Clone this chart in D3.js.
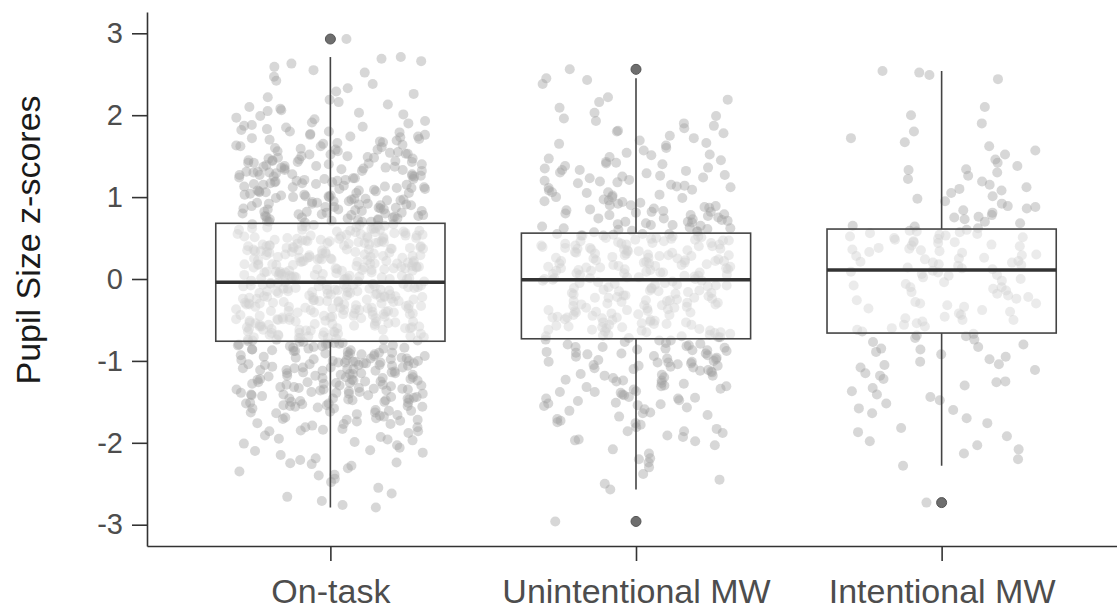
<!DOCTYPE html>
<html>
<head>
<meta charset="utf-8">
<script src="https://cdn.jsdelivr.net/npm/d3@7"></script>
<style>
  html, body { margin: 0; padding: 0; background: #ffffff; }
  svg { display: block; font-family: "Liberation Sans", Arial, Helvetica, sans-serif; }
</style>
</head>
<body>
<svg id="chart" width="1117" height="610"></svg>
<script>
// Conditions shown along the x axis
const categories = ["On-task", "Unintentional MW", "Intentional MW"];
const yTicks = [-3, -2, -1, 0, 1, 2, 3];

// Pupil size z-scores per trial, one list per condition
const onTask = [
  -2.79,-2.76,-2.71,-2.66,-2.62,-2.55,
  -2.48,-2.44,-2.39,-2.35,-2.31,-2.28,-2.26,-2.24,-2.21,-2.19,-2.15,-2.12,-2.09,-2.06,-2.03,-2.01,
  -1.99,-1.97,-1.95,-1.93,-1.91,-1.88,-1.86,-1.85,-1.83,-1.81,-1.79,-1.77,-1.76,-1.74,-1.72,-1.71,-1.69,
  -1.68,-1.66,-1.65,-1.63,-1.62,-1.61,-1.6,-1.58,-1.57,-1.56,-1.55,-1.54,-1.53,-1.52,-1.51,-1.51,-1.5,
  -1.49,-1.48,-1.47,-1.46,-1.46,-1.45,-1.44,-1.43,-1.42,-1.41,-1.4,-1.39,-1.38,-1.37,-1.36,-1.35,-1.35,
  -1.34,-1.33,-1.32,-1.31,-1.3,-1.29,-1.28,-1.27,-1.26,-1.25,-1.25,-1.24,-1.23,-1.22,-1.21,-1.2,-1.19,
  -1.18,-1.17,-1.16,-1.15,-1.15,-1.14,-1.13,-1.12,-1.11,-1.1,-1.09,-1.08,-1.08,-1.07,-1.06,-1.05,-1.05,
  -1.04,-1.03,-1.03,-1.02,-1.02,-1.01,-1.01,-1.0,-1.0,
  -0.99,-0.98,-0.97,-0.96,-0.95,-0.94,-0.93,-0.92,-0.91,-0.9,-0.89,-0.88,-0.87,-0.86,-0.85,-0.84,-0.83,
  -0.82,-0.81,-0.8,-0.79,-0.78,-0.77,-0.77,
  -0.76,-0.75,-0.75,-0.74,-0.74,-0.73,-0.72,-0.72,-0.71,-0.7,-0.7,-0.69,-0.68,-0.68,-0.67,-0.66,-0.66,
  -0.65,-0.64,-0.64,-0.63,-0.62,-0.62,-0.61,-0.6,-0.6,-0.59,-0.58,-0.58,-0.57,-0.56,-0.56,-0.55,-0.54,
  -0.54,-0.53,-0.52,-0.52,-0.51,-0.5,-0.5,-0.49,-0.48,-0.48,-0.47,-0.46,-0.46,-0.45,-0.44,-0.44,-0.43,
  -0.42,-0.42,-0.41,-0.4,-0.4,-0.39,-0.38,-0.38,-0.37,-0.36,-0.36,-0.35,-0.34,-0.34,-0.33,-0.32,-0.32,
  -0.31,-0.3,-0.3,-0.29,-0.28,-0.28,-0.27,-0.26,-0.26,-0.25,-0.24,-0.24,-0.23,-0.22,-0.22,-0.21,-0.2,
  -0.2,-0.19,-0.18,-0.18,-0.17,-0.16,-0.16,-0.15,-0.14,-0.14,-0.13,-0.12,-0.12,-0.11,-0.1,-0.1,-0.09,
  -0.08,-0.08,-0.07,-0.06,-0.06,-0.05,-0.05,-0.04,
  -0.61,-0.55,-0.49,-0.45,-0.41,-0.37,-0.35,-0.33,-0.31,-0.29,-0.27,-0.25,-0.23,-0.21,-0.19,-0.17,
  -0.15,-0.13,-0.11,-0.09,-0.07,-0.53,-0.47,-0.39,-0.27,-0.21,-0.15,-0.09,-0.43,-0.57,
  -0.03,-0.02,-0.02,-0.01,0,0,0.01,0.02,0.02,0.03,0.04,0.04,0.05,0.06,0.06,0.07,0.08,0.08,0.09,0.1,
  0.1,0.11,0.12,0.12,0.13,0.14,0.14,0.15,0.16,0.16,0.17,0.18,0.18,0.19,0.2,0.2,0.21,0.22,0.22,0.23,
  0.24,0.24,0.25,0.26,0.26,0.27,0.28,0.28,0.29,0.3,0.3,0.31,0.32,0.32,0.33,0.34,0.34,0.35,0.36,0.36,
  0.37,0.38,0.38,0.39,0.4,0.4,0.41,0.42,0.42,0.43,0.44,0.44,0.45,0.46,0.46,0.47,0.48,0.48,0.49,0.5,
  0.5,0.51,0.52,0.52,0.53,0.54,0.54,0.55,0.56,0.56,0.57,0.58,0.58,0.59,0.6,0.6,0.61,0.62,0.62,0.63,
  0.64,0.64,0.65,0.66,0.66,0.67,
  0.01,0.03,0.05,0.07,0.09,0.11,0.13,0.15,0.17,0.19,0.21,0.23,0.25,0.27,0.29,0.31,0.33,0.35,0.37,
  0.39,0.41,0.43,0.45,0.47,0.49,0.51,0.53,0.03,0.08,0.14,0.19,0.26,0.33,0.4,
  0.69,0.7,0.71,0.72,0.73,0.74,0.75,0.76,0.77,0.78,0.79,0.8,0.81,0.82,0.83,0.84,0.85,0.86,0.87,0.88,
  0.89,0.9,0.91,0.92,0.93,0.94,0.95,0.96,0.97,0.98,0.99,0.7,0.74,0.79,0.85,0.92,
  1.0,1.01,1.02,1.03,1.04,1.05,1.06,1.07,1.08,1.09,1.1,1.11,1.12,1.13,1.14,1.15,1.16,1.17,1.18,1.19,
  1.2,1.21,1.22,1.23,1.24,1.25,1.26,1.27,1.28,1.29,1.3,1.31,1.32,1.33,1.34,1.35,1.36,1.37,1.38,1.39,
  1.4,1.41,1.42,1.43,1.44,1.45,1.46,1.47,1.48,1.49,
  1.5,1.52,1.53,1.55,1.56,1.58,1.59,1.61,1.62,1.64,1.65,1.67,1.68,1.7,1.71,1.73,1.74,1.76,1.77,1.79,
  1.8,1.82,1.83,1.85,1.86,1.88,1.9,1.91,1.93,1.95,1.97,1.99,
  2.01,2.03,2.06,2.08,2.1,2.13,2.16,2.19,2.22,2.26,2.29,2.33,2.38,2.42,2.47,
  2.52,2.55,2.59,2.63,2.66,2.69,2.71,2.93,
  0.7,0.72,0.73,0.75,0.77,0.78,0.8,0.82,0.83,0.85,0.87,0.88,0.9,0.92,0.93,0.95,0.97,0.98,1.0,1.02,
  1.03,1.05,1.07,1.08,1.1,1.12,1.13,1.15,1.17,1.18,1.2,1.22,1.23,1.25,1.27,1.28,1.3,1.32,1.33,1.35,
  1.37,1.38,1.4,1.42,1.43,1.45,1.47,1.48,1.5,1.52,1.54,1.56,1.58,1.6,1.63,1.66,1.69,1.72,1.76,1.8,
  0.71,0.76,0.81,0.86,0.91,0.96,1.01,1.06,1.11,1.16,1.21,1.26,1.31,1.36,1.44,1.53,1.62,1.74,1.87,2.05,
  -0.78,-0.79,-0.81,-0.82,-0.84,-0.85,-0.87,-0.88,-0.9,-0.91,-0.93,-0.94,-0.96,-0.97,-0.99,-1.0,-1.02,
  -1.03,-1.05,-1.06,-1.08,-1.09,-1.11,-1.12,-1.14,-1.15,-1.17,-1.18,-1.2,-1.21,-1.23,-1.24,-1.26,-1.27,
  -1.29,-1.3,-1.32,-1.33,-1.35,-1.36,-1.38,-1.39,-1.41,-1.42,-1.44,-1.46,-1.48,-1.5,-1.52,-1.54,-1.56,
  -1.58,-1.61,-1.64,-1.67,-1.7,-1.73,-1.77,-1.81,-1.86,
  -0.8,-0.86,-0.92,-0.98,-1.04,-1.1,-1.16,-1.22,-1.28,-1.34,-1.4,-1.47,-1.55,-1.63,-1.72,-1.84,-1.96,
  -2.1,-2.25,-2.4,
  -0.74,-0.71,-0.67,-0.63,-0.59,-0.55,-0.51,-0.47,-0.43,-0.39,-0.35,-0.31,-0.27,-0.23,-0.19,-0.15,-0.11,
  -0.07,-0.03,0.01,0.05,0.09,0.13,0.17,0.21,0.25,0.29,0.33,0.37,0.41,0.45,0.49,0.53,0.57,0.61,0.65,
  -0.69,-0.65,-0.6,-0.52,-0.45,-0.38,-0.3,-0.22,-0.13,-0.06,0.02,0.1,0.18,0.27,0.35,0.44,0.52,0.6,0.67,
  -0.72,-0.62,-0.49,-0.36,-0.24,-0.17,-0.08,0.04,0.12,0.22,0.31,0.38,0.46,0.55,0.63,-0.58,-0.41,-0.28,
  -0.12,0.0,0.15,0.24,0.36,0.5,0.59
];

const unintentional = [
  -2.96,-2.57,-2.5,-2.45,-2.38,-2.3,-2.24,-2.19,-2.13,-2.08,-2.03,
  -1.98,-1.96,-1.93,-1.91,-1.88,-1.86,-1.83,-1.81,-1.78,-1.76,-1.73,-1.71,-1.68,-1.66,-1.63,-1.61,
  -1.59,-1.57,-1.55,-1.53,-1.52,-1.51,
  -1.49,-1.48,-1.46,-1.45,-1.44,-1.42,-1.41,-1.39,-1.38,-1.37,-1.35,-1.34,-1.32,-1.31,-1.3,-1.28,
  -1.27,-1.25,-1.24,-1.23,-1.21,-1.2,-1.18,-1.17,-1.16,-1.14,-1.13,-1.11,-1.1,-1.09,-1.08,-1.07,
  -1.06,-1.05,-1.04,-1.03,-1.02,-1.02,-1.01,-1.0,
  -0.99,-0.98,-0.97,-0.95,-0.94,-0.93,-0.92,-0.91,-0.9,-0.89,-0.88,-0.87,-0.86,-0.85,-0.84,-0.83,
  -0.82,-0.81,-0.8,-0.78,-0.77,-0.75,-0.74,
  -0.72,-0.71,-0.71,-0.7,-0.69,-0.68,-0.68,-0.67,-0.66,-0.65,-0.65,-0.64,-0.63,-0.62,-0.62,-0.61,
  -0.6,-0.59,-0.59,-0.58,-0.57,-0.56,-0.56,-0.55,-0.54,-0.53,-0.53,-0.52,-0.51,-0.5,-0.5,-0.49,
  -0.48,-0.47,-0.47,-0.46,-0.45,-0.44,-0.44,-0.43,-0.42,-0.41,-0.41,-0.4,-0.39,-0.38,-0.38,-0.37,
  -0.36,-0.35,-0.35,-0.34,-0.33,-0.32,-0.32,-0.31,-0.3,-0.29,-0.29,-0.28,-0.27,-0.26,-0.26,-0.25,
  -0.24,-0.23,-0.23,-0.22,-0.21,-0.2,-0.2,-0.19,-0.18,-0.17,-0.17,-0.16,-0.15,-0.14,-0.14,-0.13,
  -0.12,-0.11,-0.11,-0.1,-0.09,-0.08,-0.08,-0.07,-0.06,-0.05,-0.05,-0.04,-0.03,-0.02,-0.02,
  -0.01,0,0,0.01,0.02,0.02,0.03,0.04,0.04,0.05,0.05,0.06,0.07,0.07,0.08,0.08,0.09,0.1,0.1,0.11,
  0.11,0.12,0.13,0.13,0.14,0.14,0.15,0.16,0.16,0.17,0.17,0.18,0.19,0.19,0.2,0.2,0.21,0.22,0.22,0.23,
  0.23,0.24,0.25,0.25,0.26,0.26,0.27,0.28,0.28,0.29,0.29,0.3,0.31,0.31,0.32,0.32,0.33,0.34,0.34,0.35,
  0.35,0.36,0.37,0.37,0.38,0.38,0.39,0.4,0.4,0.41,0.41,0.42,0.43,0.43,0.44,0.44,0.45,0.46,0.46,0.47,
  0.47,0.48,0.49,0.49,0.5,0.5,0.51,0.52,0.52,0.53,0.53,0.54,0.55,0.55,0.55,
  0.57,0.58,0.59,0.6,0.61,0.62,0.63,0.64,0.65,0.66,0.67,0.68,0.69,0.7,0.71,0.72,0.73,0.74,0.75,
  0.77,0.78,0.79,0.8,0.81,0.82,0.83,0.84,0.85,0.87,0.88,0.89,0.9,0.92,0.93,0.94,0.96,0.97,0.99,
  1.0,1.02,1.03,1.05,1.06,1.08,1.09,1.11,1.12,1.14,1.15,1.17,1.18,1.2,1.21,1.23,1.24,1.26,1.27,1.29,
  1.3,1.32,1.33,1.35,1.36,1.38,1.4,1.41,1.43,1.45,1.47,1.49,
  1.51,1.54,1.57,1.6,1.63,1.66,1.69,1.72,1.75,1.78,1.81,1.84,1.87,1.9,1.93,1.96,1.99,
  2.03,2.09,2.16,2.19,2.22,2.38,2.43,2.45,2.56,
  0.58,0.62,0.66,0.7,0.74,0.78,0.82,0.86,0.9,0.95,1.0,1.06,1.13,1.19,1.25,1.33,1.42,1.52,1.65,1.8,
  -0.75,-0.79,-0.83,-0.87,-0.91,-0.96,-1.01,-1.06,-1.12,-1.18,-1.24,-1.31,-1.38,-1.46,-1.54,-1.64,
  -1.75,-1.86,-1.97,-2.2,
  -0.7,-0.63,-0.55,-0.47,-0.39,-0.31,-0.23,-0.15,-0.07,0.01,0.08,0.15,0.22,0.29,0.36,0.42,0.48,0.53,
  -0.27,0.12
];

const intentional = [
  -2.73,-2.28,-2.2,-2.13,-2.08,-2.03,
  -1.98,-1.92,-1.87,-1.82,-1.76,-1.7,-1.64,-1.58,-1.52,
  -1.48,-1.44,-1.41,-1.37,-1.33,-1.3,-1.26,-1.22,-1.18,-1.15,-1.11,-1.08,-1.04,-1.01,
  -0.98,-0.95,-0.92,-0.89,-0.86,-0.83,-0.8,-0.77,-0.74,-0.72,-0.69,-0.67,
  -0.64,-0.62,-0.6,-0.58,-0.56,-0.54,-0.52,-0.5,-0.48,-0.46,-0.44,-0.42,-0.4,-0.38,-0.36,-0.34,
  -0.32,-0.3,-0.28,-0.26,-0.24,-0.22,-0.2,-0.18,-0.16,-0.14,-0.12,-0.1,-0.08,-0.06,-0.04,-0.02,
  0,0.02,0.04,0.05,0.06,0.08,0.09,0.1,
  0.12,0.13,0.14,0.16,0.17,0.18,0.2,0.21,0.22,0.24,0.25,0.26,0.28,0.29,0.3,0.32,0.33,0.34,0.36,0.37,
  0.38,0.4,0.41,0.42,0.44,0.45,0.46,0.48,0.49,0.5,0.51,0.52,0.53,0.54,0.55,0.56,0.57,0.58,0.59,0.6,
  0.62,0.65,0.68,0.7,0.73,0.76,0.78,0.81,0.84,0.86,0.89,0.92,0.95,0.98,
  1.01,1.05,1.08,1.12,1.15,1.19,1.22,1.26,1.3,1.34,1.38,1.42,1.46,
  1.52,1.57,1.62,1.67,1.72,1.8,1.9,
  2.0,2.1,2.44,2.49,2.52,2.54,
  0.64,0.75,0.88,1.1,1.33,-0.7,-0.85,-1.05,-1.25,-1.6,-0.3,-0.1,0.2,0.35,0.45,-0.5
];

// Box summaries per condition (same order as categories)
const lowerHinge  = [-0.76, -0.73, -0.66];
const medians     = [-0.04, -0.01, 0.11];
const upperHinge  = [0.68, 0.56, 0.61];
const whiskerLow  = [-2.79, -2.57, -2.28];
const whiskerHigh = [2.71, 2.45, 2.54];
const outliers    = [[2.93], [2.56, -2.96], [-2.73]];

const seriesValues = [onTask, unintentional, intentional];

// ---- layout ----
const svg = d3.select("#chart");
const panel = { left: 147, top: 12, bottom: 546, right: 1125 };

const x = d3.scalePoint()
  .domain(categories)
  .range([panel.left, panel.right])
  .padding(0.6);

const y = d3.scaleLinear()
  .domain([-3.26, 3.26])
  .range([panel.bottom, panel.top]);

const step = x.step();
const boxHalf = step * 0.375;
const jitterHalf = step * 0.31;

// deterministic horizontal spread for the jittered points
function spread(i, k) {
  const s = Math.sin((i + 1) * 12.9898 + (k + 1) * 78.233) * 43758.5453;
  return s - Math.floor(s);
}

const points = [];
seriesValues.forEach((vals, k) => {
  vals.forEach((v, i) => {
    points.push({ cat: categories[k], v, dx: (spread(i, k) * 2 - 1) * jitterHalf });
  });
});

// jittered observations
svg.append("g")
  .selectAll("circle")
  .data(points)
  .join("circle")
  .attr("cx", d => x(d.cat) + d.dx)
  .attr("cy", d => y(d.v))
  .attr("r", 5)
  .attr("fill", "#a0a0a0")
  .attr("fill-opacity", 0.42);

// box plots
const boxes = categories.map((c, k) => ({
  cat: c, lo: lowerHinge[k], med: medians[k], hi: upperHinge[k],
  wl: whiskerLow[k], wh: whiskerHigh[k], out: outliers[k]
}));

const bg = svg.append("g").selectAll("g").data(boxes).join("g");

bg.append("line")
  .attr("x1", d => x(d.cat)).attr("x2", d => x(d.cat))
  .attr("y1", d => y(d.hi)).attr("y2", d => y(d.wh))
  .attr("stroke", "#444").attr("stroke-width", 1.6);

bg.append("line")
  .attr("x1", d => x(d.cat)).attr("x2", d => x(d.cat))
  .attr("y1", d => y(d.lo)).attr("y2", d => y(d.wl))
  .attr("stroke", "#444").attr("stroke-width", 1.6);

bg.append("rect")
  .attr("x", d => x(d.cat) - boxHalf)
  .attr("width", boxHalf * 2)
  .attr("y", d => y(d.hi))
  .attr("height", d => y(d.lo) - y(d.hi))
  .attr("fill", "#ffffff")
  .attr("fill-opacity", 0.5)
  .attr("stroke", "#444")
  .attr("stroke-width", 1.6);

bg.append("line")
  .attr("x1", d => x(d.cat) - boxHalf).attr("x2", d => x(d.cat) + boxHalf)
  .attr("y1", d => y(d.med)).attr("y2", d => y(d.med))
  .attr("stroke", "#333").attr("stroke-width", 3.6);

bg.selectAll("circle.outlier")
  .data(d => d.out.map(v => ({ cat: d.cat, v })))
  .join("circle")
  .attr("class", "outlier")
  .attr("cx", d => x(d.cat))
  .attr("cy", d => y(d.v))
  .attr("r", 5)
  .attr("fill", "#6e6e6e")
  .attr("stroke", "#555")
  .attr("stroke-width", 1);

// axes
const yAxis = svg.append("g")
  .attr("transform", `translate(${panel.left},0)`)
  .call(d3.axisLeft(y).tickValues(yTicks).tickFormat(d => String(d))
    .tickSize(15).tickSizeOuter(0).tickPadding(9));

const xAxis = svg.append("g")
  .attr("transform", `translate(0,${panel.bottom})`)
  .call(d3.axisBottom(x).tickSize(15).tickSizeOuter(0).tickPadding(18));

[yAxis, xAxis].forEach(g => {
  g.select(".domain").attr("stroke", "#333").attr("stroke-width", 1.6);
  g.selectAll(".tick line").attr("stroke", "#333").attr("stroke-width", 1.6);
});

yAxis.selectAll(".tick text")
  .attr("font-size", 29)
  .attr("fill", "#4d4d4d")
  .attr("font-family", "'Liberation Sans', Arial, sans-serif");

xAxis.selectAll(".tick text")
  .attr("font-size", 34)
  .attr("fill", "#4d4d4d")
  .attr("font-family", "'Liberation Sans', Arial, sans-serif");

// y axis title
svg.append("text")
  .attr("transform", "translate(40,240) rotate(-90)")
  .attr("text-anchor", "middle")
  .attr("font-size", 34)
  .attr("fill", "#1a1a1a")
  .text("Pupil Size z-scores");
</script>
</body>
</html>
